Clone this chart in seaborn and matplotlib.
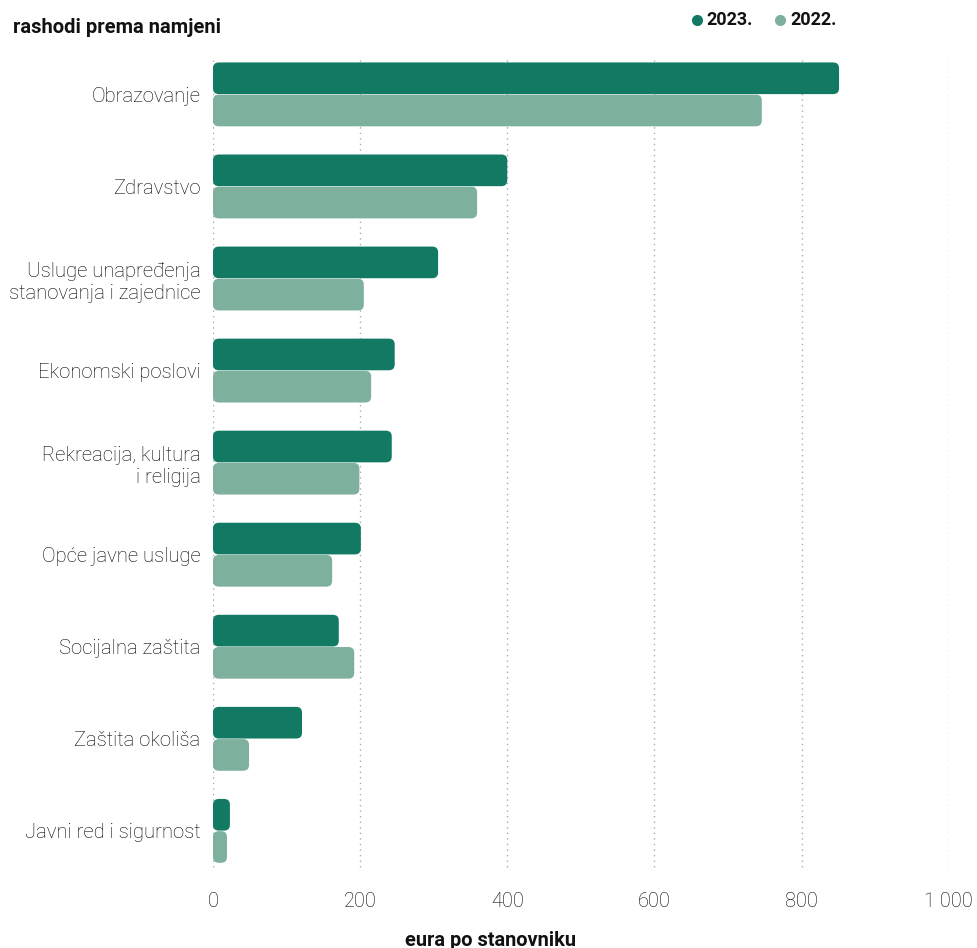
import matplotlib
matplotlib.use('Agg')
import matplotlib.pyplot as plt
import seaborn as sns
import pandas as pd
from matplotlib.patches import FancyBboxPatch
from matplotlib.lines import Line2D

categories = ['Obrazovanje', 'Zdravstvo', 'Usluge unapređenja\nstanovanja i zajednice',
              'Ekonomski poslovi', 'Rekreacija, kultura\ni religija', 'Opće javne usluge',
              'Socijalna zaštita', 'Zaštita okoliša', 'Javni red i sigurnost']
vals_2023 = [851, 400, 306, 247, 243, 201, 171, 121, 23]
vals_2022 = [746, 359, 205, 215, 199, 162, 192, 49, 19]
years = ['2023.', '2022.']
colors = ['#127a63', '#7eb09e']
xticks = [0, 200, 400, 600, 800, 1000]
xtick_labels = ['0', '200', '400', '600', '800', '1 000']

df = pd.DataFrame({
    'kategorija': categories * 2,
    'vrijednost': vals_2023 + vals_2022,
    'godina': [years[0]] * len(categories) + [years[1]] * len(categories),
})

sns.set_style('white')
plt.rcParams['font.family'] = ['Roboto', 'DejaVu Sans']

fig = plt.figure(figsize=(9.77, 9.48), dpi=100)
ax = fig.add_axes([0.218, 0.075, 0.753, 0.874])

sns.barplot(data=df, x='vrijednost', y='kategorija', hue='godina', hue_order=years,
            palette=colors, width=0.7, orient='h', ax=ax, legend=False, saturation=1)

ax.set_xlim(0, 1000)
ax.set_ylim(8.5, -0.5)

# swap the plain bars for rounded ones
bars = list(ax.patches)
for b in bars:
    x, y = b.get_x(), b.get_y()
    w, h = b.get_width(), b.get_height()
    fc = b.get_facecolor()
    b.remove()
    r = min(8, w / 2)
    ax.add_patch(FancyBboxPatch((x, y + 0.003), w, h - 0.006,
                                boxstyle=f'round,pad=0,rounding_size={r}',
                                mutation_aspect=0.0078, fc=fc, ec='none', zorder=3))

# dotted grid, a bit shorter than the axes
ax.vlines(xticks, -0.37, 8.42, colors='#aaaaaa', linestyles=(0, (1, 3)), linewidth=1, zorder=1)

ax.set_xticks(xticks)
ax.set_xticklabels(xtick_labels)
for s in ax.spines.values():
    s.set_visible(False)
ax.tick_params(axis='x', length=0, pad=11, labelsize=14.3, labelcolor='#000000')
ax.tick_params(axis='y', length=0, pad=9, labelsize=14.6, labelcolor='#000000')
for t in ax.get_xticklabels() + ax.get_yticklabels():
    t.set_fontweight('light')
for t in ax.get_yticklabels():
    if '\n' not in t.get_text():
        t.set_y(t.get_position()[1])
        t.set_va('center_baseline')
ax.set_xlabel('')
ax.set_ylabel('')

fig.text(0.013, 0.971, 'rashodi prema namjeni', fontsize=14.5, fontweight='bold',
         va='center', ha='left', color='#111111')
fig.text(0.502, 0.008, 'eura po stanovniku', fontsize=14.4, fontweight='bold',
         va='center', ha='center', color='#111111')

# legend: dots + bold year labels
for xd, xt, c, lab in [(697, 706, colors[0], years[0]), (780, 790, colors[1], years[1])]:
    fig.add_artist(Line2D([xd / 977], [1 - 20 / 948], marker='o', markersize=7,
                          color=c, linestyle='', transform=fig.transFigure))
    fig.text(xt / 977, 1 - 20 / 948, lab, fontsize=13, fontweight='bold',
             va='center', ha='left', color='#111111')

fig.savefig('out.png', dpi=100)
